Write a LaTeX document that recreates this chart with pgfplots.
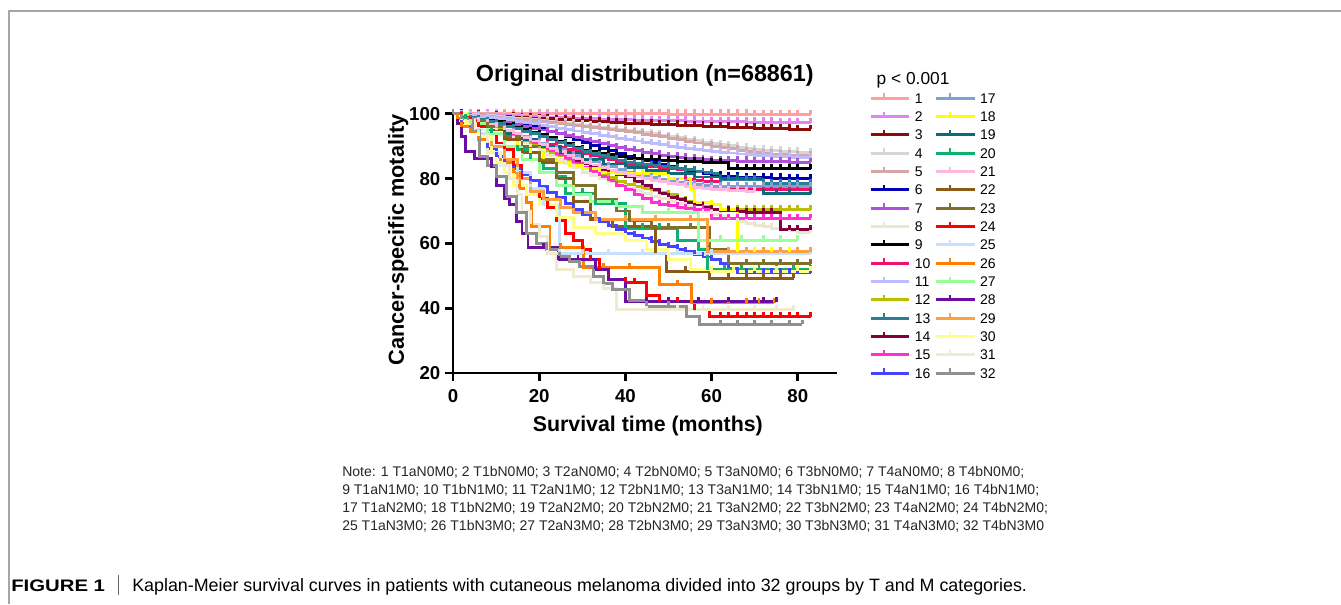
\documentclass[border=0pt]{standalone}
\usepackage{pgfplots}
\pgfplotsset{compat=1.18}
\usepackage{pgfplotstable}
\usepackage{fontspec}
\setmainfont{Liberation Sans}

\pgfdeclareplotmark{cens}{%
  \pgfpathmoveto{\pgfqpoint{0pt}{0pt}}%
  \pgfpathlineto{\pgfqpoint{0pt}{3.6pt}}%
  \pgfusepathqstroke}

\definecolor{k1}{HTML}{FF9F9F}
\definecolor{k2}{HTML}{DE85F2}
\definecolor{k3}{HTML}{8B0A0A}
\definecolor{k4}{HTML}{D6D6D6}
\definecolor{k5}{HTML}{D4A6A6}
\definecolor{k6}{HTML}{0000B4}
\definecolor{k7}{HTML}{B050D8}
\definecolor{k8}{HTML}{EDE6CF}
\definecolor{k9}{HTML}{000000}
\definecolor{k10}{HTML}{F0106A}
\definecolor{k11}{HTML}{BCBCFF}
\definecolor{k12}{HTML}{BDBD00}
\definecolor{k13}{HTML}{2A8092}
\definecolor{k14}{HTML}{800040}
\definecolor{k15}{HTML}{FF30D0}
\definecolor{k16}{HTML}{4545FF}
\definecolor{k17}{HTML}{7FA0D0}
\definecolor{k18}{HTML}{FFFF00}
\definecolor{k19}{HTML}{0B6A7A}
\definecolor{k20}{HTML}{10B070}
\definecolor{k21}{HTML}{FFB8E0}
\definecolor{k22}{HTML}{8B5A14}
\definecolor{k23}{HTML}{80702A}
\definecolor{k24}{HTML}{FF0000}
\definecolor{k25}{HTML}{C8E0FF}
\definecolor{k26}{HTML}{FF7F00}
\definecolor{k27}{HTML}{99FF99}
\definecolor{k28}{HTML}{6A0DA0}
\definecolor{k29}{HTML}{FFA040}
\definecolor{k30}{HTML}{FFFF88}
\definecolor{k31}{HTML}{F0EAD0}
\definecolor{k32}{HTML}{909090}

\pgfplotstableread{
x  c1   c2   c3   c4   c5   c6   c7   c8   c9   c10  c11  c12  c13  c14  c15  c16  c17  c21
0  100  100  100  100  100  100  100  100  100  100  100  100  100  100  100  100  100  100
2  100  99.9 99.9 99.8 99.8 99.6 99.6 99.0 99.5 99.2 99.7 99.1 99.4 99.2 99.2 97.4 99.2 99.2
4  100  99.8 99.7 99.7 99.6 99.2 99.2 98.0 99.0 98.4 99.4 98.2 98.8 98.4 98.4 94.7 98.4 98.4
6  100  99.8 99.6 99.5 99.4 98.7 98.8 97.0 98.5 97.6 99.1 97.3 98.2 97.6 97.6 92.1 97.6 97.6
8  100  99.7 99.4 99.4 99.2 98.3 98.4 96.0 98.0 96.8 98.8 96.4 97.6 96.8 96.8 89.4 96.8 96.8
10 100  99.6 99.3 99.2 99.0 97.9 98.0 95.0 97.5 96.0 98.5 95.5 97.0 96.0 96.0 86.8 96.0 96.0
12 100  99.5 99.2 99.0 98.7 97.4 97.4 93.7 96.7 95.0 98.1 94.3 96.2 94.8 94.8 85.0 95.0 94.9
14 100  99.4 99.0 98.7 98.4 97.0 96.8 92.4 95.9 94.0 97.7 93.1 95.4 93.6 93.6 83.1 94.0 93.8
16 100  99.3 98.9 98.5 98.2 96.5 96.2 91.1 95.1 93.0 97.3 91.9 94.6 92.4 92.4 81.3 93.0 92.7
18 100  99.2 98.7 98.2 97.9 96.1 95.6 89.8 94.3 92.0 96.9 90.7 93.8 91.2 91.2 79.4 92.0 91.6
20 100  99.1 98.6 98.0 97.6 95.6 95.0 88.5 93.5 91.0 96.5 89.5 93.0 90.0 90.0 77.6 91.0 90.5
22 100  99.0 98.5 97.7 97.3 94.7 94.4 87.2 92.6 90.4 96.0 88.2 92.1 88.9 88.7 75.8 90.0 89.4
24 100  98.9 98.3 97.4 97.0 93.8 93.8 85.9 91.6 89.7 95.6 87.0 91.2 87.8 87.4 74.1 89.0 88.3
26 100  98.8 98.2 97.1 96.6 93.0 93.2 84.6 90.7 89.1 95.1 85.7 90.3 86.7 86.1 72.3 88.0 87.2
28 100  98.7 98.0 96.8 96.3 92.1 92.6 83.3 89.7 88.4 94.7 84.5 89.4 85.6 84.8 70.6 87.0 86.1
30 100  98.6 97.9 96.5 96.0 91.2 92.0 82.0 88.8 87.8 94.2 83.2 88.5 84.5 83.5 68.8 86.0 85.0
32 100  98.5 97.7 96.2 95.7 90.3 91.4 81.0 88.3 87.1 93.8 82.2 87.8 83.7 82.1 67.7 85.2 84.2
34 100  98.4 97.6 95.9 95.4 89.4 90.8 80.0 87.8 86.4 93.3 81.2 87.1 82.9 80.7 66.6 84.4 83.4
36 100  98.3 97.4 95.6 95.1 88.6 90.2 79.0 87.3 85.8 92.9 80.2 86.4 82.1 79.3 65.4 83.6 82.6
38 100  98.2 97.3 95.3 94.8 87.7 89.6 78.0 86.8 85.1 92.4 79.2 85.7 81.3 77.9 64.3 82.8 81.8
40 100  98.1 97.1 95.0 94.5 86.8 89.0 77.0 86.3 84.4 92.0 78.2 85.0 80.5 76.5 63.2 82.0 81.0
42 100  98.0 97.0 94.6 94.1 86.2 88.6 76.2 86.1 84.1 91.6 77.6 84.7 79.2 75.2 62.4 81.4 80.5
44 100  98.0 96.9 94.2 93.7 85.6 88.1 75.4 86.0 83.8 91.2 76.9 84.4 78.0 73.9 61.5 80.8 80.0
46 100  97.9 96.8 93.8 93.3 85.0 87.7 74.6 85.8 83.6 90.8 76.3 84.1 76.7 72.6 60.7 80.2 79.5
48 100  97.9 96.7 93.4 92.9 84.4 87.2 73.8 85.7 83.3 90.4 75.6 83.8 75.5 71.9 59.8 79.6 79.0
50 99.9 97.8 96.6 93.0 92.5 83.8 86.8 73.0 85.5 83.0 90.0 75.0 83.5 74.2 71.6 59.0 79.0 78.5
52 99.9 97.8 96.5 92.6 92.0 83.2 86.6 72.2 85.4 82.7 89.7 74.0 83.1 73.5 71.2 58.2 78.7 78.1
54 99.9 97.7 96.4 92.1 91.5 82.6 86.3 71.4 85.3 79.6 89.3 73.0 82.7 72.7 70.8 57.4 78.4 77.7
56 99.9 97.7 96.3 91.7 91.0 82.1 86.1 70.6 85.2 79.4 89.0 72.2 82.3 72.0 70.5 56.6 78.1 77.3
58 99.9 97.6 96.2 91.2 90.5 81.5 85.8 69.8 85.1 79.2 88.6 71.5 81.9 71.2 70.5 55.8 77.8 76.9
60 99.9 97.6 96.1 90.8 90.0 80.9 85.6 69.0 85.0 79.0 88.3 70.4 81.5 70.5 67.7 55.0 77.5 76.5
62 99.9 97.6 96.0 90.4 89.6 80.8 85.5 68.3 85.0 76.6 88.1 70.4 79.6 70.3 67.7 53.7 77.5 76.5
64 99.9 97.5 95.9 90.1 89.2 80.6 85.5 67.6 83.0 76.6 87.9 70.4 79.6 70.1 67.7 52.4 77.5 76.3
66 99.9 97.5 95.8 89.7 88.8 80.5 85.4 66.9 83.0 76.6 87.6 70.4 79.6 69.8 67.7 51.0 77.5 76.2
68 99.9 97.4 95.7 89.4 88.4 80.3 85.4 66.2 83.0 76.6 87.4 70.4 79.6 69.6 67.7 51.0 77.5 76.0
70 99.8 97.4 95.6 89.0 88.0 80.2 85.3 65.5 83.0 76.6 87.2 70.4 79.6 69.4 67.7 51.0 77.5 76.0
72 99.8 97.4 95.5 88.8 87.8 80.2 85.3 65.1 83.0 76.6 87.1 70.4 78.5 69.4 67.7 51.0 77.5 nan
74 99.8 97.4 95.4 88.7 87.6 80.1 85.2 64.7 83.0 76.6 86.9 70.4 78.5 69.4 67.7 51.0 77.5 nan
76 99.8 97.3 95.4 88.5 87.4 80.1 85.2 64.3 83.0 76.6 86.8 70.4 78.5 64.2 67.7 51.0 77.5 nan
78 99.8 97.3 95.3 88.4 87.2 80.0 85.1 63.9 83.0 76.6 86.6 70.4 78.5 64.2 67.7 51.0 77.5 nan
80 99.8 97.3 95.2 88.2 87.0 80.0 85.1 63.5 83.0 76.6 86.5 70.4 78.5 64.2 67.7 51.0 77.5 nan
83 99.8 97.3 95.2 88.1 86.9 80.0 85.1 63.2 83.0 76.6 86.4 70.4 78.5 64.2 67.7 51.0 77.5 nan
}\dense

\pgfplotsset{
  km/.style={const plot, mark=cens, /tikz/line width=2.2pt, mark options={solid, /tikz/line width=2.2pt}},
}

\begin{document}
\begin{tikzpicture}
\path[use as bounding box] (0pt,0pt) rectangle (1005.75pt,-453pt);
\draw[black!35, line width=1.1pt] (6.75pt,-453pt) -- (6.75pt,-8.25pt) -- (1005.75pt,-8.25pt);

\begin{axis}[
  at={(339.75pt,-279.75pt)}, anchor=south west,
  scale only axis, width=287.7pt, height=194.4pt,
  xmin=0, xmax=89, ymin=20, ymax=100,
  xtick={0,20,40,60,80}, ytick={20,40,60,80,100},
  axis x line=bottom, axis y line=left,
  axis line style={-, line width=2pt},
  tick align=outside, major tick length=6pt,
  tick style={line width=2pt, black},
  /pgf/number format/assume math mode=true,
  tick label style={font=\bfseries\fontsize{14}{14}\selectfont},
  xticklabel style={yshift=-2.5pt},
  clip=false,
  title={Original distribution (n=68861)},
  title style={at={(axis description cs:0.5,1.118)}, anchor=center, font=\bfseries\fontsize{17.5}{17.5}\selectfont},
  xlabel={Survival time (months)},
  xlabel style={at={(axis description cs:0.508,-0.206)}, anchor=center, font=\bfseries\fontsize{16}{16}\selectfont},
  ylabel={Cancer-specific motality},
  ylabel style={at={(axis description cs:-0.143,0.513)}, anchor=center, font=\bfseries\fontsize{16.3}{16.3}\selectfont},
  legend image code/.code={%
    \draw[#1, line width=1.5pt] (0pt,0pt) -- (20.5pt,0pt);
    \draw[#1, line width=1.5pt] (10.25pt,0pt) -- (10.25pt,3.6pt);
    \path (0pt,0pt) -- (29pt,0pt);},
  legend columns=16, transpose legend,
  legend cell align=left,
  legend style={at={(axis description cs:1.074,1.094)}, anchor=north west,
    draw=none, fill=none, font=\fontsize{10.5}{10.5}\selectfont,
    nodes={inner sep=0pt, text height=7.5pt, text depth=0pt},
    column sep=3pt, row sep=5.65pt},
]
\addplot[km, color=k1] table[x=x, y=c1] {\dense};
\addplot[km, color=k2] table[x=x, y=c2] {\dense};
\addplot[km, color=k3] table[x=x, y=c3] {\dense};
\addplot[km, color=k4] table[x=x, y=c4] {\dense};
\addplot[km, color=k5] table[x=x, y=c5] {\dense};
\addplot[km, color=k6] table[x=x, y=c6] {\dense};
\addplot[km, color=k7] table[x=x, y=c7] {\dense};
\addplot[km, color=k8] table[x=x, y=c8] {\dense};
\addplot[km, color=k9] table[x=x, y=c9] {\dense};
\addplot[km, color=k10] table[x=x, y=c10] {\dense};
\addplot[km, color=k11] table[x=x, y=c11] {\dense};
\addplot[km, color=k12] table[x=x, y=c12] {\dense};
\addplot[km, color=k13] table[x=x, y=c13] {\dense};
\addplot[km, color=k14] table[x=x, y=c14] {\dense};
\addplot[km, color=k15] table[x=x, y=c15] {\dense};
\addplot[km, color=k16] table[x=x, y=c16] {\dense};
\addplot[km, color=k17] table[x=x, y=c17] {\dense};
% 18
\addplot[km, color=k18] coordinates {(0,100) (3,98) (6,96) (9,94) (12,92) (15,90) (18,88) (21,86) (24,85) (27,84) (30,83) (34,82) (38,81.5) (44,81.5) (50,80) (55,76.5) (56,72.5) (60,72) (62,70.4) (66,57.5) (70,57.5) (74,57.5) (78,57.5) (83,57.5)};
% 19
\addplot[km, color=k19] coordinates {(0,100) (4,98) (8,96) (12,94) (16,92) (20,90) (25,88) (30,86) (35,84.5) (40,83.5) (45,82.5) (50,81.5) (56,80.5) (62,80) (66,80) (72,75.3) (75,75.3) (78,75.3) (83,75.3)};
% 20
\addplot[km, color=k20] coordinates {(0,100) (3,98.5) (6,96.5) (9,94) (12,92) (15,89) (18,86) (21,83) (24,80.7) (26,75.5) (30,75.5) (33,72.4) (37,72.4) (40,64.7) (44,64.7) (48,64.7) (52,61) (57,58) (59,51.9) (63,51.9) (67,51.9) (71,51.9) (75,51.9) (79,51.9) (83,51.9)};
% 21
\addplot[km, color=k21] table[x=x, y=c21] {\dense};
% 22
\addplot[km, color=k22] coordinates {(0,100) (4,98) (8,95) (12,92) (16,88) (20,85) (24,80) (28,73) (32,67.3) (37,65.2) (42,65.2) (47,57) (49.5,51.4) (54,51.4) (59.5,49.3) (64,49.3) (68,49.3) (72,49.3) (76,49.3) (79,49.3)};
% 23
\addplot[km, color=k23] coordinates {(0,100) (4,98) (8,96) (12,93) (16,90) (20,86) (24,82) (28,78) (33,73.5) (38,70) (41,67) (46,64.8) (50,64.8) (55,64.8) (59.5,58) (64,53.7) (68,53.7) (72,53.7) (76,53.7) (80,53.7) (83,53.7)};
% 24
\addplot[km, color=k24] coordinates {(0,100) (2,99) (4,97.5) (6,96) (8,94) (10,91) (12,89) (14,84) (16,80) (18,77) (20,74) (22,71) (24,67) (26,63) (28,61) (30,58) (32,55) (34,52) (36,49) (40,48) (42,47.8) (45,44) (48,42) (52,42) (56,39.5) (59.5,37.4) (62,37.4) (64,37.4) (66,37.4) (68,37.4) (70,37.4) (72,37.4) (74,37.4) (76,37.4) (78,37.4) (80,37.4) (83,37.4)};
% 25
\addplot[km, color=k25] coordinates {(0,100) (3,97) (6,94) (9,90) (12,86) (15,82) (18,77) (21,72) (24.8,56.8) (30,56.8) (36,56.8) (44,56.8) (52,56.8) (60,56.8) (68,56.8) (76,56.8) (83,56.8)};
% 26
\addplot[km, color=k26] coordinates {(0,100) (1,98.5) (2,96) (4,94.5) (6,92) (8,88) (11,84.9) (14,81.8) (15.5,77) (17,72.5) (18.3,65.1) (22.5,58.6) (25,58.6) (30.2,52.5) (35,52.5) (41,52.5) (48,47.2) (52,47.2) (55.4,41.7) (60,41.7) (64,41.7) (68,41.7) (71,41.7) (74.5,41.7)};
% 27
\addplot[km, color=k27] coordinates {(0,100) (4,97) (8,94) (12,90) (16,86) (20,82) (24,78) (28,75) (32,73) (38,71.3) (44,69.4) (50,69.4) (57,61) (62,61) (67,61) (72,61) (76,61) (80,61)};
% 28
\addplot[km, color=k28] coordinates {(0,100) (1,97) (2,93) (3,88.4) (5,86.3) (9,83.7) (10,78) (12,74) (13,71.9) (14.7,66.8) (16,63.2) (17.4,58.6) (21,58.6) (24.4,55) (29,55) (33,52) (36,48.8) (40,42) (45,42) (50,42) (57,42) (64,42) (70,42) (72,42) (75,42)};
% 29
\addplot[km, color=k29] coordinates {(0,100) (3,97) (6,93) (9,90) (12,86) (15,80) (18,76) (21,73.5) (25,71) (28,69.4) (33,67.3) (40,67.3) (47,67.3) (55,67.3) (59,57.4) (64,57.4) (68,57.4) (72,57.4) (76,57.4) (80,57.4) (83,57.4)};
% 30
\addplot[km, color=k30] coordinates {(0,100) (3,97) (6,93) (9,88) (10,85) (12,82) (14,78) (17,75) (20,72) (24,68) (28,65) (33,63) (40,61) (45,58) (50,55) (55,52) (60,51.4) (65,51.4) (70,51.4) (75,51.4) (80,51.4) (83,51.4)};
% 31
\addplot[km, color=k31] coordinates {(0,100) (2,98) (5,95) (8,88) (11,84) (13,80) (15,75) (16,70) (18,66) (20,62) (22,57) (24,52) (28,49.8) (32,48) (35,46) (38,39.5) (45,39.5) (52,39.5) (58,39.5) (64,39.5) (70,39.5) (75,39.5) (79,39.5)};
% 32
\addplot[km, color=k32] coordinates {(0,100) (2,98.5) (4.6,95) (6.2,86.8) (8,84) (10,80.7) (12.4,74.5) (14.7,69.4) (17,63.2) (19.3,60) (21.6,58) (24.7,56) (27,54.5) (29.4,52.9) (32.5,49.8) (35,47.5) (37.1,45.7) (41,42.5) (44.8,40.6) (50,40.6) (54.1,37.5) (57.2,35) (62,35) (66,35) (70,35) (74,35) (78,35) (81,35)};
\legend{1,2,3,4,5,6,7,8,9,10,11,12,13,14,15,16,17,18,19,20,21,22,23,24,25,26,27,28,29,30,31,32}
\end{axis}

\node[anchor=west, font=\fontsize{13}{13}\selectfont] at (654pt,-60.5pt) {p < 0.001};

\begin{scope}[every node/.style={anchor=base west, inner sep=0pt, font=\fontsize{10.5}{10.5}\selectfont, text=black!85}]
\node at (256.5pt,-357pt) {Note: 1 T1aN0M0; 2 T1bN0M0; 3 T2aN0M0; 4 T2bN0M0; 5 T3aN0M0; 6 T3bN0M0; 7 T4aN0M0; 8 T4bN0M0;};
\node at (256.5pt,-370.5pt) {9 T1aN1M0; 10 T1bN1M0; 11 T2aN1M0; 12 T2bN1M0; 13 T3aN1M0; 14 T3bN1M0; 15 T4aN1M0; 16 T4bN1M0;};
\node at (256.5pt,-384pt) {17 T1aN2M0; 18 T1bN2M0; 19 T2aN2M0; 20 T2bN2M0; 21 T3aN2M0; 22 T3bN2M0; 23 T4aN2M0; 24 T4bN2M0;};
\node at (256.5pt,-397.5pt) {25 T1aN3M0; 26 T1bN3M0; 27 T2aN3M0; 28 T2bN3M0; 29 T3aN3M0; 30 T3bN3M0; 31 T4aN3M0; 32 T4bN3M0};
\end{scope}

\node[anchor=base west, inner sep=0pt, font=\bfseries\fontsize{12.5}{12.5}\selectfont] at (8.25pt,-443.5pt) {\scalebox{1.22}[1]{FIGURE 1}};
\draw[black!60, line width=0.6pt] (88.5pt,-431.5pt) -- (88.5pt,-446.5pt);
\node[anchor=base west, inner sep=0pt, font=\fontsize{13.4}{13.4}\selectfont] at (99pt,-443.5pt) {Kaplan-Meier survival curves in patients with cutaneous melanoma divided into 32 groups by T and M categories.};
\end{tikzpicture}
\end{document}
